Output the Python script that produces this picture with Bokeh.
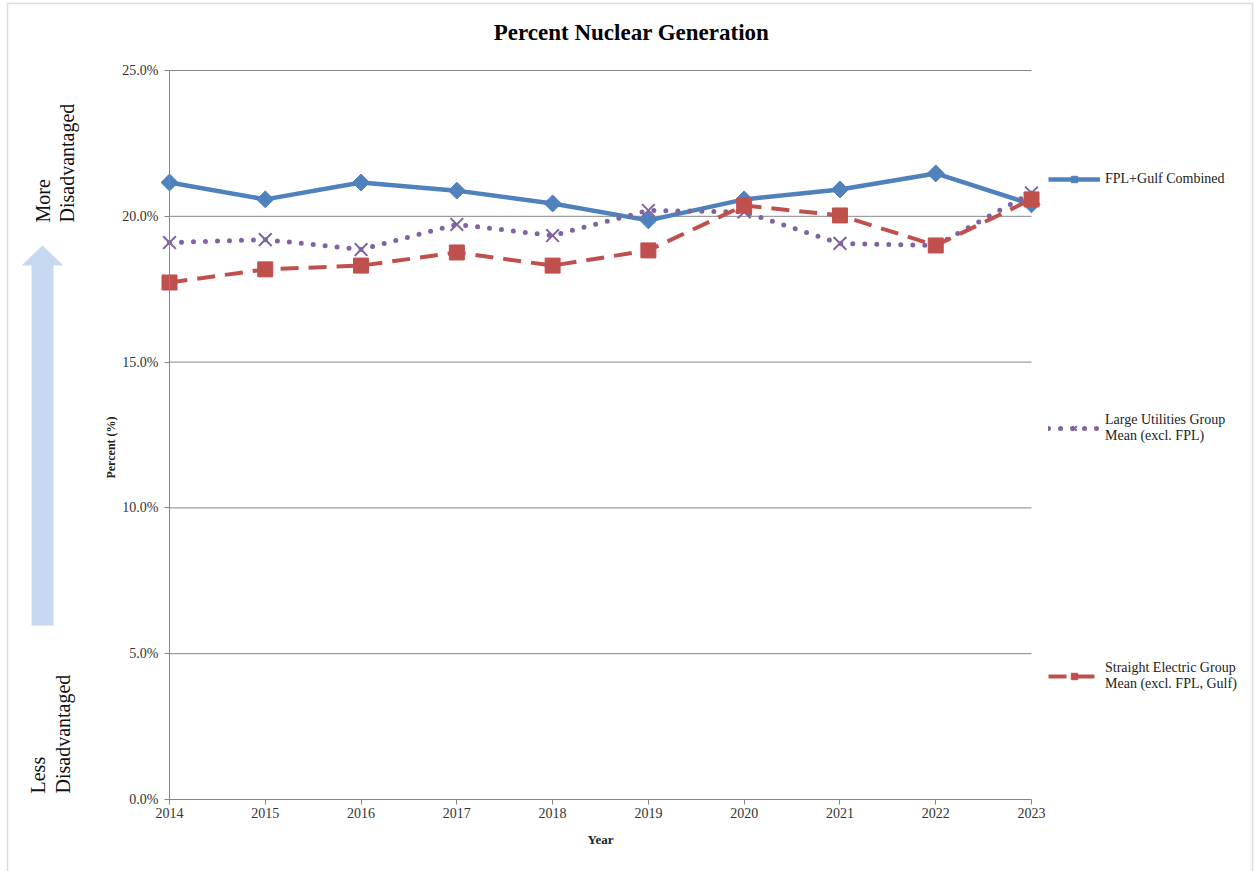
import numpy as np
from bokeh.plotting import figure
from bokeh.models import (Range1d, LinearAxis, FixedTicker, PrintfTickFormatter, Label,
                          PolyAnnotation, Legend, LegendItem)
from bokeh.embed import file_html
from bokeh.resources import INLINE

# ---------------- data ----------------
years = [2014, 2015, 2016, 2017, 2018, 2019, 2020, 2021, 2022, 2023]
fpl_gulf = [21.16, 20.58, 21.16, 20.88, 20.44, 19.86, 20.58, 20.92, 21.47, 20.41]
large_util = [19.10, 19.20, 18.86, 19.72, 19.34, 20.20, 20.15, 19.07, 19.00, 20.80]
straight_elec = [17.73, 18.18, 18.31, 18.76, 18.31, 18.83, 20.37, 20.03, 19.00, 20.58]
y_ticks = [0, 5, 10, 15, 20, 25]
series_names = ["FPL+Gulf Combined",
                "Large Utilities Group\nMean (excl. FPL)",
                "Straight Electric Group\nMean (excl. FPL, Gulf)"]

SERIF = "Liberation Serif"
GRID = "#868686"
BLUE, PURPLE, RED = "#4f81bd", "#8064a2", "#c0504d"

# ---------------- layout (pixels on the canvas) ----------------
W, H = 1254, 871
PX_LEFT, PX_RIGHT = 169, 1031     # canvas x of first / last year
PY_TOP, PY_BOT = 70, 799          # canvas y of top / bottom y tick
kx = (PX_RIGHT - PX_LEFT) / (years[-1] - years[0])
ky = (PY_BOT - PY_TOP) / (y_ticks[-1] - y_ticks[0])
x0 = years[0] - PX_LEFT / kx
x1 = x0 + W / kx
y1 = y_ticks[-1] + PY_TOP / ky
y0 = y_ticks[0] - (H - PY_BOT) / ky

p = figure(width=W, height=H, output_backend="svg", toolbar_location=None,
           x_range=Range1d(x0, x1), y_range=Range1d(y0, y1),
           min_border=0, min_border_left=0, min_border_right=0, min_border_top=0,
           min_border_bottom=0, x_axis_type=None, y_axis_type=None, title=None)
p.outline_line_color = None
p.xgrid.visible = False
p.ygrid.visible = False
p.background_fill_color = "white"
p.border_fill_color = "white"

# axes drawn at fixed data locations inside the (full-canvas) frame
yaxis = LinearAxis(fixed_location=years[0], bounds=(y_ticks[0], y_ticks[-1]),
                   ticker=FixedTicker(ticks=y_ticks),
                   formatter=PrintfTickFormatter(format="%.1f%%"))
xaxis = LinearAxis(fixed_location=y_ticks[0], bounds=(years[0], years[-1]),
                   ticker=FixedTicker(ticks=years), axis_label="Year")
for ax in (yaxis, xaxis):
    ax.axis_line_color = GRID
    ax.major_tick_line_color = GRID
    ax.minor_tick_line_color = None
    ax.major_tick_in = 0
    ax.major_tick_out = 5
    ax.major_label_text_font = SERIF
    ax.major_label_text_font_size = "14px"
    ax.major_label_text_color = "#333333"
    ax.axis_label_text_font = SERIF
    ax.axis_label_text_font_style = "bold"
    ax.axis_label_text_font_size = "13px"
    ax.axis_label_text_color = "#222222"
yaxis.major_label_standoff = 6
xaxis.major_label_standoff = 3
xaxis.axis_label_standoff = 11
p.add_layout(yaxis, "left")
p.add_layout(xaxis, "below")

# y-axis title
p.add_layout(Label(x=110, y=H - 447, x_units="screen", y_units="screen",
                   text="Percent (%)", angle=np.pi / 2, text_font=SERIF,
                   text_font_size="12px", text_font_style="bold", text_align="center",
                   text_baseline="middle", text_color="#222222"))

# horizontal gridlines from first to last year
gy = y_ticks[1:]
p.segment(x0=[years[0]] * len(gy), x1=[years[-1]] * len(gy), y0=gy, y1=gy,
          line_color=GRID, line_width=1)

# series
r_bl = p.line(years, fpl_gulf, line_color=BLUE, line_width=4.5)
r_bm = p.scatter(years, fpl_gulf, marker="square", angle=np.pi / 4, size=12,
                 fill_color=BLUE, line_color=BLUE)
r_pl = p.line(years, large_util, line_color=PURPLE, line_width=5, line_dash="0 12",
              line_cap="round")
r_pm = p.scatter(years, large_util, marker="x", size=18, line_color=PURPLE, line_width=2)
r_rl = p.line(years, straight_elec, line_color=RED, line_width=4, line_dash="18 10")
r_rm = p.scatter(years, straight_elec, marker="square", size=15, fill_color=RED, line_color=RED)

# legends (one per entry, at the right of the plot area)
def mk_legend(label, rends, sx, bottom_py):
    lg = Legend(items=[LegendItem(label=label, renderers=rends)], location=(sx, H - bottom_py),
                label_text_font=SERIF, label_text_font_size="14px", label_text_color="#222222",
                glyph_width=52, glyph_height=16, label_standoff=5, padding=0, margin=0,
                border_line_color=None, background_fill_alpha=0, spacing=0)
    p.add_layout(lg, "center")

mk_legend(series_names[0], [r_bl, r_bm], 1048, 187)
mk_legend(series_names[1], [r_pl, r_pm], 1048, 444)
mk_legend(series_names[2], [r_rl, r_rm], 1048, 692)

# title
p.add_layout(Label(x=631, y=H - 32, x_units="screen", y_units="screen",
                   text="Percent Nuclear Generation", text_font=SERIF,
                   text_font_size="23px", text_font_style="bold", text_align="center",
                   text_baseline="middle", text_color="#000000"))

# side annotations
for txt, x, py in [("More", 42, 222), ("Disadvantaged", 66, 222),
                   ("Less", 37, 793), ("Disadvantaged", 62, 793)]:
    p.add_layout(Label(x=x, y=H - py, x_units="screen", y_units="screen", text=txt,
                       angle=np.pi / 2, text_font=SERIF, text_font_size="20px",
                       text_align="left", text_baseline="middle", text_color="#111111"))

# block arrow
arrow_px = [42, 21, 31, 31, 53, 53, 63]
arrow_py = [245, 265, 265, 625, 625, 265, 265]
p.add_layout(PolyAnnotation(xs=arrow_px, ys=[H - v for v in arrow_py],
                            xs_units="screen", ys_units="screen",
                            fill_color="#c6d9f1", fill_alpha=1, line_color=None))

# chart-area border
p.add_layout(PolyAnnotation(xs=[7, 1252, 1252, 7], ys=[H - 3, H - 3, -10, -10],
                            xs_units="screen", ys_units="screen",
                            fill_alpha=0, line_color="#8c8c8c", line_width=1.5))

open("out.html", "w").write(file_html(p, INLINE))
